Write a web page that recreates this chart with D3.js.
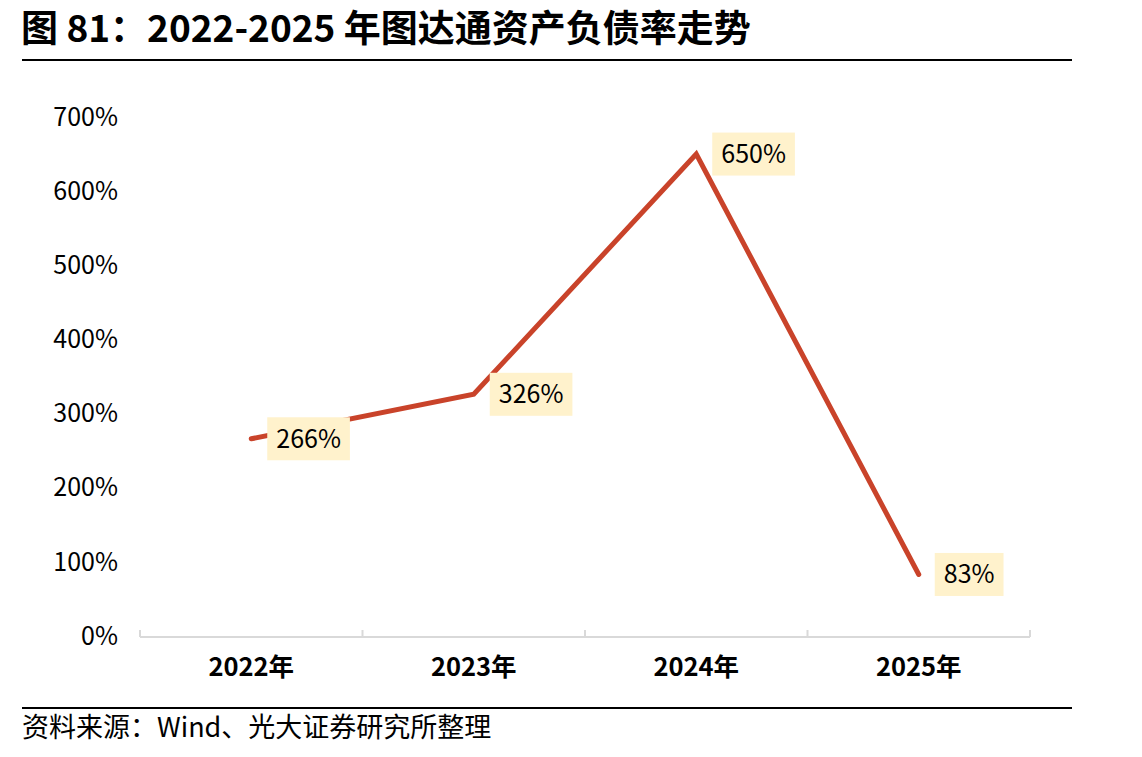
<!DOCTYPE html>
<html lang="zh">
<head>
  <meta charset="UTF-8">
  <title>图达通资产负债率走势</title>
  <script src="https://d3js.org/d3.v7.min.js"></script>
  <style>
    body { margin: 0; background: #fff; }
    text { font-family: "Noto Sans CJK SC", "Noto Sans", sans-serif; }
  </style>
</head>
<body>
  <div id="chart"></div>

  <script>
    // data
    const years = ["2022年", "2023年", "2024年", "2025年"];
    const ratios = [266, 326, 650, 83];
    const yTicks = [0, 100, 200, 300, 400, 500, 600, 700];

    const width = 1142, height = 757;
    const margin = {top: 117, right: 112, bottom: 121, left: 140};

    const svg = d3.select("#chart").append("svg")
      .attr("width", width)
      .attr("height", height);

    // title + rules
    svg.append("text")
      .attr("x", 21)
      .attr("y", 42)
      .attr("font-size", 37)
      .attr("font-weight", "bold")
      .attr("fill", "#000")
      .text("图 81：2022-2025 年图达通资产负债率走势");

    svg.append("line")
      .attr("x1", 22).attr("x2", 1072)
      .attr("y1", 60).attr("y2", 60)
      .attr("stroke", "#000").attr("stroke-width", 2);

    svg.append("line")
      .attr("x1", 22).attr("x2", 1072)
      .attr("y1", 708).attr("y2", 708)
      .attr("stroke", "#000").attr("stroke-width", 2);

    svg.append("text")
      .attr("x", 22)
      .attr("y", 737)
      .attr("font-size", 27)
      .attr("fill", "#000")
      .text("资料来源：Wind、光大证券研究所整理");

    // scales
    const x = d3.scaleBand()
      .domain(years)
      .range([margin.left, width - margin.right])
      .padding(0);

    const y = d3.scaleLinear()
      .domain([0, 700])
      .range([height - margin.bottom, margin.top]);

    const cx = d => x(d) + x.bandwidth() / 2;

    // y axis labels only
    svg.append("g")
      .selectAll("text")
      .data(yTicks)
      .join("text")
        .attr("x", 118)
        .attr("y", d => y(d))
        .attr("dy", "0.35em")
        .attr("text-anchor", "end")
        .attr("font-size", 25)
        .attr("fill", "#000")
        .text(d => d + "%");

    // x axis: grey baseline with upward ticks at band edges
    const axisY = y(0) + 1;
    svg.append("line")
      .attr("x1", margin.left).attr("x2", width - margin.right)
      .attr("y1", axisY).attr("y2", axisY)
      .attr("stroke", "#d9d9d9").attr("stroke-width", 2);

    const edges = years.map(d => x(d)).concat([x(years[years.length - 1]) + x.bandwidth()]);
    svg.append("g")
      .selectAll("line")
      .data(edges)
      .join("line")
        .attr("x1", d => d).attr("x2", d => d)
        .attr("y1", axisY).attr("y2", axisY - 7)
        .attr("stroke", "#d9d9d9").attr("stroke-width", 2);

    svg.append("g")
      .selectAll("text")
      .data(years)
      .join("text")
        .attr("x", d => cx(d))
        .attr("y", 667)
        .attr("dy", "0.35em")
        .attr("text-anchor", "middle")
        .attr("font-size", 25.5)
        .attr("font-weight", "bold")
        .attr("fill", "#000")
        .text(d => d);

    // line
    const pts = years.map((d, i) => [cx(d), y(ratios[i])]);
    svg.append("path")
      .datum(pts)
      .attr("d", d3.line())
      .attr("fill", "none")
      .attr("stroke", "#C9432A")
      .attr("stroke-width", 5)
      .attr("stroke-linejoin", "miter")
      .attr("stroke-linecap", "round");

    // data labels with beige boxes
    const labels = svg.append("g")
      .selectAll("g")
      .data(pts)
      .join("g")
        .attr("transform", d => `translate(${d[0] + 16},${d[1]})`);

    labels.each(function(d, i) {
      const g = d3.select(this);
      const t = g.append("text")
        .attr("x", 9)
        .attr("y", 0)
        .attr("dy", "0.35em")
        .attr("font-size", 25)
        .attr("fill", "#000")
        .text(ratios[i] + "%");
      const w = t.node().getComputedTextLength();
      g.insert("rect", "text")
        .attr("x", 0)
        .attr("y", -21.5)
        .attr("width", w + 18)
        .attr("height", 43)
        .attr("fill", "#FFF2CC");
    });
  </script>
</body>
</html>
